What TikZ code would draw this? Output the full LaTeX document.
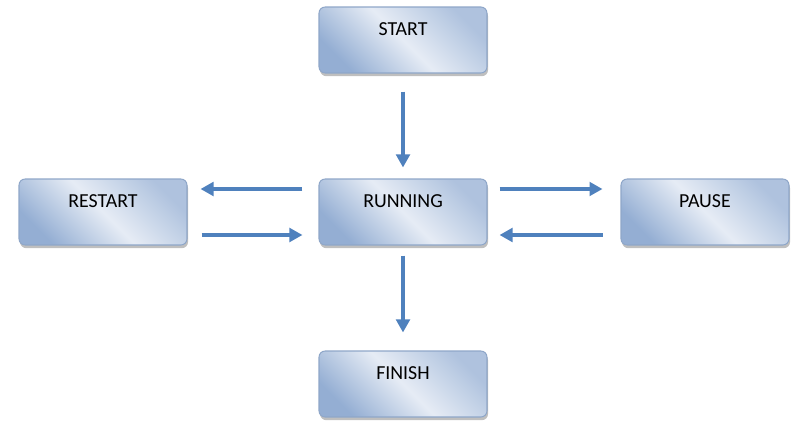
\documentclass[tikz,border=0pt]{standalone}
\usepackage{fontspec}
\setmainfont{Carlito}
\usetikzlibrary{arrows.meta, positioning, shadows}

\definecolor{boxdark}{HTML}{94AED3}
\definecolor{boxlight}{HTML}{E6ECF5}
\definecolor{boxline}{HTML}{8FA7C9}
\definecolor{flowblue}{HTML}{4F81BD}

\tikzset{
    statebox/.style={draw=boxline, line width=0.6pt, rounded corners=3.5pt,
        minimum width=3.36cm, minimum height=1.32cm, inner sep=0pt,
        left color=boxdark, right color=boxdark!75, middle color=boxlight,
        shading angle=135,
        drop shadow={shadow xshift=0.6pt, shadow yshift=-1.8pt, opacity=0.5, fill=gray},
        font=\fontsize{11.3}{13}\selectfont, text height=7pt, text depth=12.3pt},
    flow/.style={draw=flowblue, line width=2.3pt,
        -{Triangle[length=0.26cm, width=0.27cm]}}
}

\begin{document}
\begin{tikzpicture}[x=0.02cm, y=-0.02cm]
    \useasboundingbox[fill=white] (0, 0) rectangle (811, 429);
    % states
    \node[statebox] (start)   at (403, 40)  {START};
    \node[statebox] (running) at (403, 212) {RUNNING};
    \node[statebox] (restart) at (103, 212) {RESTART};
    \node[statebox] (pause)   at (705, 212) {PAUSE};
    \node[statebox] (finish)  at (403, 384) {FINISH};
    % transitions
    \draw[flow, shorten <=0.36cm, shorten >=0.22cm] (start) -- (running);
    \draw[flow, shorten <=0.2cm, shorten >=0.36cm] (running) -- (finish);
    \draw[flow, shorten <=0.32cm, shorten >=0.26cm] ([yshift=0.46cm]running.west) -- ([yshift=0.46cm]restart.east);
    \draw[flow, shorten <=0.28cm, shorten >=0.32cm] ([yshift=-0.46cm]restart.east) -- ([yshift=-0.46cm]running.west);
    \draw[flow, shorten <=0.24cm, shorten >=0.36cm] ([yshift=0.46cm]running.east) -- ([yshift=0.46cm]pause.west);
    \draw[flow, shorten <=0.36cm, shorten >=0.24cm] ([yshift=-0.46cm]pause.west) -- ([yshift=-0.46cm]running.east);
\end{tikzpicture}
\end{document}
